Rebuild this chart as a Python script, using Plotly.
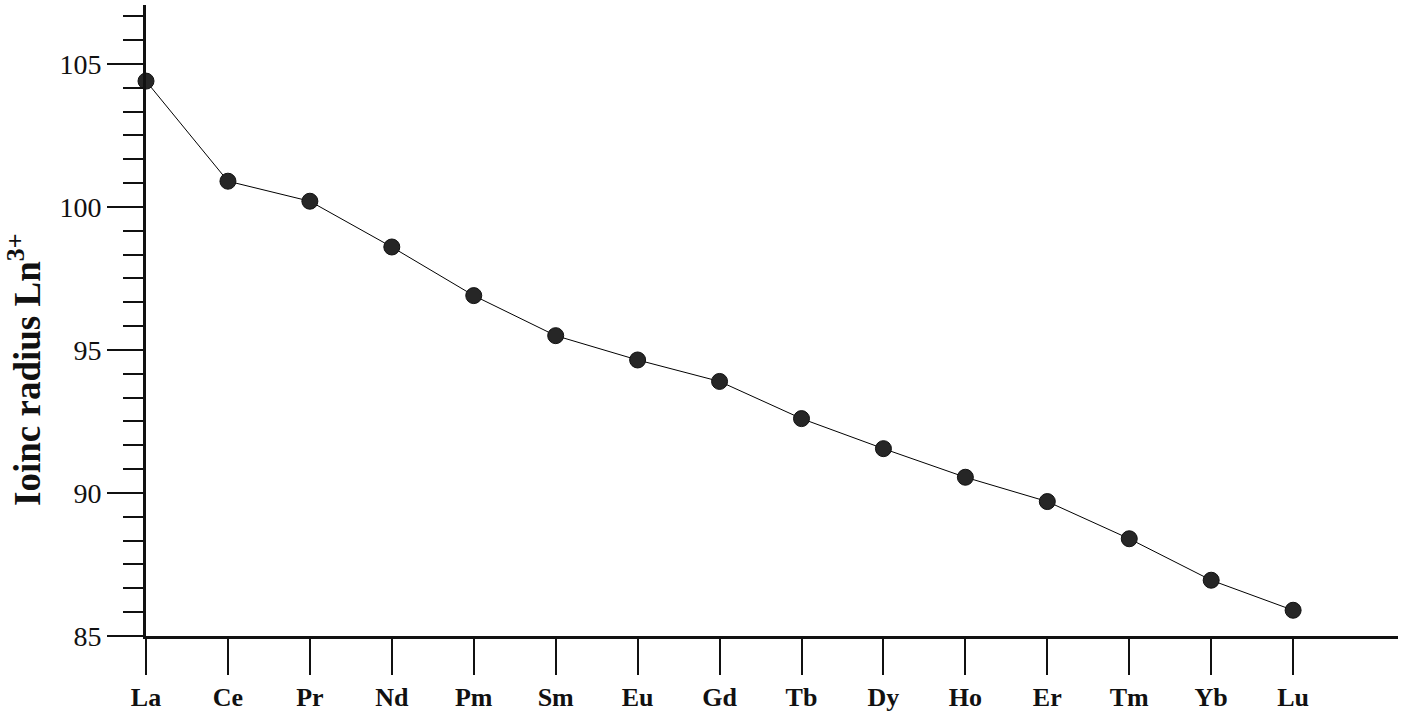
import plotly.graph_objects as go

elements = ["La", "Ce", "Pr", "Nd", "Pm", "Sm", "Eu", "Gd", "Tb", "Dy", "Ho", "Er", "Tm", "Yb", "Lu"]
radius = [104.4, 100.9, 100.2, 98.6, 96.9, 95.5, 94.65, 93.9, 92.6, 91.55, 90.55, 89.7, 88.4, 86.95, 85.9]
y_ticks = [85, 90, 95, 100, 105]
y_title = "Ioinc radius Ln<sup>3+</sup>"

x_idx = list(range(len(elements)))

fig = go.Figure()
fig.add_trace(go.Scatter(
    x=x_idx, y=radius, mode="lines+markers",
    line=dict(color="black", width=1),
    marker=dict(size=16, color="#262626", line=dict(color="#111111", width=1)),
    showlegend=False, cliponaxis=False,
))

font_family = "Liberation Serif, Times New Roman, serif"

fig.update_layout(
    width=1404, height=712,
    margin=dict(l=146, r=6, t=5, b=76),
    paper_bgcolor="white", plot_bgcolor="white",
    font=dict(family=font_family, color="#111111"),
    xaxis=dict(
        range=[0, 15.28], automargin=False,
        tickmode="array", tickvals=x_idx, ticktext=elements,
        ticks="outside", ticklen=36, tickwidth=2, tickcolor="#111111",
        showline=True, linecolor="#111111", linewidth=3,
        showgrid=False, zeroline=False,
        tickfont=dict(size=26, family=font_family, weight="bold"),
    ),
    yaxis=dict(
        range=[85, 107.06], automargin=False,
        tickmode="array", tickvals=y_ticks,
        ticks="outside", ticklen=36, tickwidth=2, tickcolor="#111111",
        minor=dict(dtick=5/6, tick0=85, ticks="outside", ticklen=20, tickwidth=2, tickcolor="#111111"),
        showline=True, linecolor="#111111", linewidth=3,
        showgrid=False, zeroline=False,
        tickfont=dict(size=28, family=font_family),
    ),
    annotations=[dict(
        text=y_title, textangle=-90, showarrow=False,
        xref="paper", yref="paper", x=0, y=0.4216, xshift=-121,
        xanchor="center", yanchor="middle",
        font=dict(size=37, family=font_family, weight="bold", color="#111111"),
    )],
)

fig.write_html(
    "out.html",
    config={"displayModeBar": False},
    post_script="document.body.style.margin='0';document.body.style.overflow='hidden';",
)
